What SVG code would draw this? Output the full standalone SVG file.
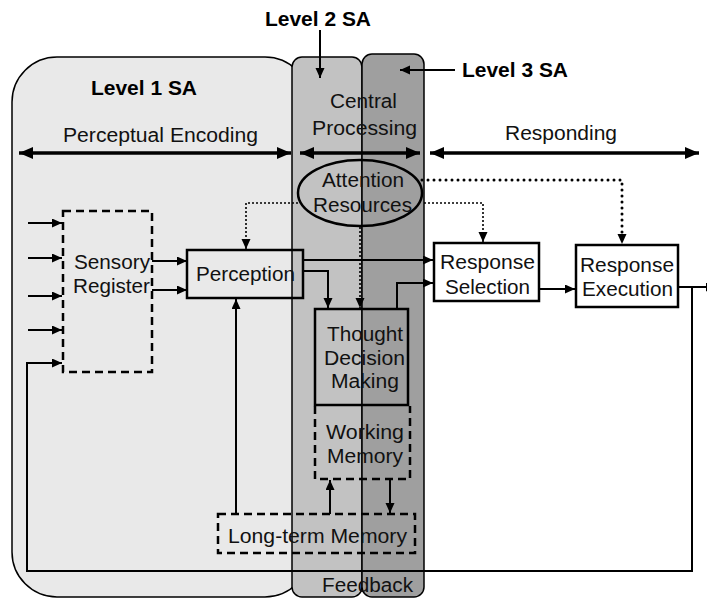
<svg xmlns="http://www.w3.org/2000/svg" width="707" height="598" viewBox="0 0 707 598">
<defs>
<marker id="ah" markerUnits="userSpaceOnUse" markerWidth="11" markerHeight="10" refX="10" refY="4.5" orient="auto"><path d="M0,0 L10,4.5 L0,9 z" fill="#000"/></marker>
<marker id="big" markerUnits="userSpaceOnUse" markerWidth="15" markerHeight="13" refX="14" refY="6" orient="auto-start-reverse"><path d="M0,0 L14,6 L0,12 z" fill="#000"/></marker>
<style>
.t{font-family:"Liberation Sans",Arial,sans-serif;font-size:19.5px;fill:#111;text-anchor:middle}
.b{font-family:"Liberation Sans",Arial,sans-serif;font-size:20px;font-weight:bold;fill:#000;text-anchor:middle}
.c{fill:none;stroke:#000;stroke-width:2}
.box{fill:none;stroke:#000;stroke-width:2.5}
.wbox{fill:#fff;stroke:#000;stroke-width:2.5}
.dash{fill:none;stroke:#000;stroke-width:2.5;stroke-dasharray:8 5}
.dotA{fill:none;stroke:#000;stroke-width:3;stroke-dasharray:0 6;stroke-linecap:round}
.dotB{fill:none;stroke:#000;stroke-width:1.6;stroke-dasharray:2 2}
.span{fill:none;stroke:#000;stroke-width:3.5}
</style>
</defs>
<rect width="707" height="598" fill="#fff"/>
<g id="level1">
<rect x="12" y="57" width="298" height="540" rx="45" ry="45" fill="#e9e9e9" stroke="#000" stroke-width="1.5"/>
<text class="b" x="144" y="95" textLength="106" lengthAdjust="spacingAndGlyphs">Level 1 SA</text>
</g>
<g id="level2">
<rect x="292" y="57" width="70" height="540" rx="10" ry="10" fill="#c2c2c2" stroke="#000" stroke-width="1.5"/>
<text class="b" x="318" y="26" textLength="106" lengthAdjust="spacingAndGlyphs">Level 2 SA</text>
</g>
<g id="level3">
<rect x="362" y="54" width="62" height="543" rx="10" ry="10" fill="#9f9f9f" stroke="#000" stroke-width="1.5"/>
<text class="b" x="515" y="77" textLength="106" lengthAdjust="spacingAndGlyphs">Level 3 SA</text>
</g>
<g id="labels">
<text class="t" x="160.5" y="142" textLength="195" lengthAdjust="spacingAndGlyphs">Perceptual Encoding</text>
<text class="t" x="363.5" y="108" textLength="67" lengthAdjust="spacingAndGlyphs">Central</text>
<text class="t" x="364.5" y="135" textLength="105" lengthAdjust="spacingAndGlyphs">Processing</text>
<text class="t" x="561" y="140" textLength="112" lengthAdjust="spacingAndGlyphs">Responding</text>
<text class="t" x="367.5" y="592" textLength="91" lengthAdjust="spacingAndGlyphs">Feedback</text>
</g>
<g id="attention">
<ellipse cx="360" cy="193" rx="62" ry="33" fill="none" stroke="#000" stroke-width="2.5"/>
<text class="t" x="363" y="187" textLength="82" lengthAdjust="spacingAndGlyphs">Attention</text>
<text class="t" x="362.5" y="212" textLength="99" lengthAdjust="spacingAndGlyphs">Resources</text>
</g>
<g id="sensory">
<rect class="dash" x="63" y="211" width="89" height="161"/>
<text class="t" x="112" y="269" textLength="76" lengthAdjust="spacingAndGlyphs">Sensory</text>
<text class="t" x="111.5" y="293" textLength="77" lengthAdjust="spacingAndGlyphs">Register</text>
</g>
<g id="perception">
<rect class="box" x="187" y="250" width="116" height="48"/>
<text class="t" x="245.5" y="281" textLength="99" lengthAdjust="spacingAndGlyphs">Perception</text>
</g>
<g id="thought">
<rect class="box" x="315" y="309" width="93" height="96"/>
<text class="t" x="365" y="341" textLength="76" lengthAdjust="spacingAndGlyphs">Thought</text>
<text class="t" x="364.5" y="365" textLength="81" lengthAdjust="spacingAndGlyphs">Decision</text>
<text class="t" x="365" y="388" textLength="68" lengthAdjust="spacingAndGlyphs">Making</text>
</g>
<g id="working">
<path class="dash" d="M315,406 V479 H410 V406"/>
<text class="t" x="365" y="439" textLength="78" lengthAdjust="spacingAndGlyphs">Working</text>
<text class="t" x="365" y="463" textLength="76" lengthAdjust="spacingAndGlyphs">Memory</text>
</g>
<g id="longterm">
<rect class="dash" x="218" y="514" width="197" height="39"/>
<text class="t" x="317.5" y="543" textLength="179" lengthAdjust="spacingAndGlyphs">Long-term Memory</text>
</g>
<g id="selection">
<rect class="wbox" x="434" y="243" width="105" height="58"/>
<text class="t" x="487.5" y="269" textLength="95" lengthAdjust="spacingAndGlyphs">Response</text>
<text class="t" x="487.5" y="294" textLength="85" lengthAdjust="spacingAndGlyphs">Selection</text>
</g>
<g id="execution">
<rect class="wbox" x="576" y="245" width="102" height="62"/>
<text class="t" x="627" y="272" textLength="94" lengthAdjust="spacingAndGlyphs">Response</text>
<text class="t" x="627.5" y="296" textLength="91" lengthAdjust="spacingAndGlyphs">Execution</text>
</g>
<g id="connectors">
<path class="c" d="M320,30 V78" marker-end="url(#ah)"/>
<path class="c" d="M455,70 H400" marker-end="url(#ah)"/>
<path class="span" d="M19,153 H291" marker-start="url(#big)" marker-end="url(#big)"/>
<path class="span" d="M300,153 H420" marker-start="url(#big)" marker-end="url(#big)"/>
<path class="span" d="M430,153 H699" marker-start="url(#big)" marker-end="url(#big)"/>
<path class="c" d="M28,223 H62" marker-end="url(#ah)"/>
<path class="c" d="M28,258 H62" marker-end="url(#ah)"/>
<path class="c" d="M28,296 H62" marker-end="url(#ah)"/>
<path class="c" d="M28,330 H62" marker-end="url(#ah)"/>
<path class="c" d="M152,261 H187" marker-end="url(#ah)"/>
<path class="c" d="M152,290 H187" marker-end="url(#ah)"/>
<path class="c" d="M303,260 H433" marker-end="url(#ah)"/>
<path class="c" d="M303,271 H328 V308" marker-end="url(#ah)"/>
<path class="c" d="M397,309 V283 H433" marker-end="url(#ah)"/>
<path class="c" d="M539,289 H575" marker-end="url(#ah)"/>
<path class="c" d="M678,287 H716" marker-end="url(#ah)"/>
<path class="c" d="M692,287 V571 H27 V363 H62" marker-end="url(#ah)"/>
<path class="c" d="M236,514 V299" marker-end="url(#ah)"/>
<path class="c" d="M330,514 V480" marker-end="url(#ah)"/>
<path class="c" d="M390,479 V513" marker-end="url(#ah)"/>
<path class="dotB" d="M360,227 V308" marker-end="url(#ah)"/>
<path class="dotA" d="M422,180 H622 V244" marker-end="url(#ah)"/>
<path class="dotB" d="M298,203 H246 V249" marker-end="url(#ah)"/>
<path class="dotB" d="M424,203 H483 V242" marker-end="url(#ah)"/>
</g>
</svg>
